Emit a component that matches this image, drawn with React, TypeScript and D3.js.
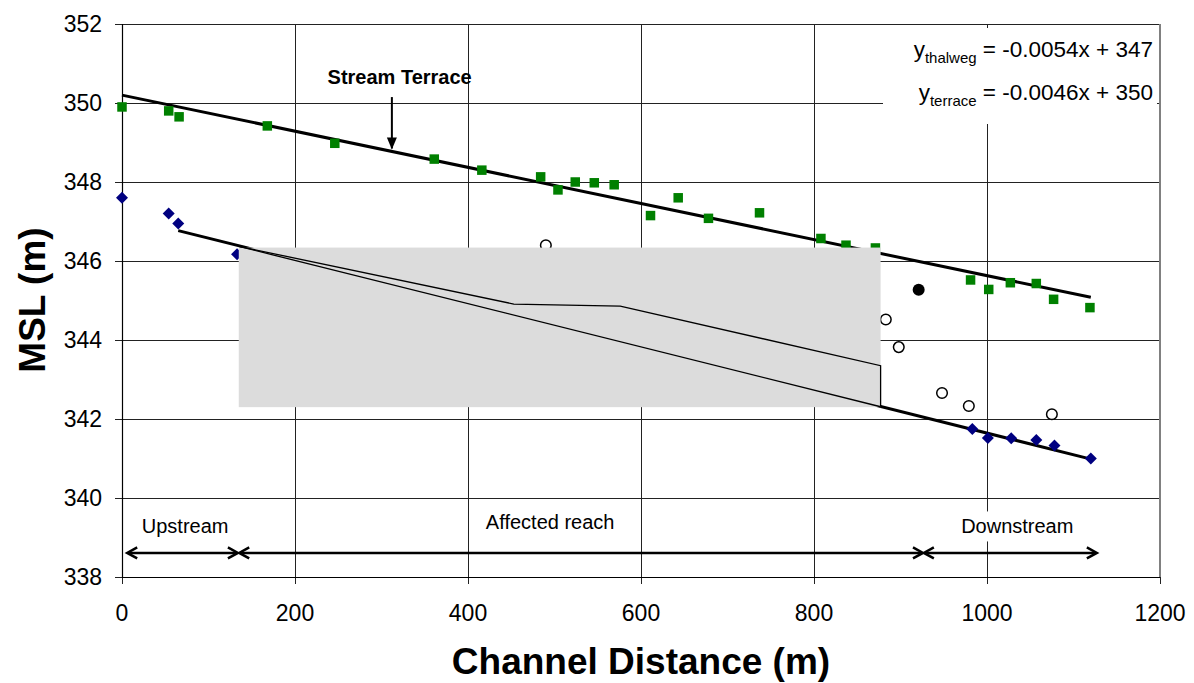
import React from "react";
import * as d3 from "d3";

// ---- Data ----
const terraceX = [0, 54, 66, 168, 246, 361, 416, 484, 504, 524, 546, 569, 611, 643, 678, 737, 808, 837, 871, 981, 1002, 1027, 1057, 1077, 1119];
const terraceY = [349.9, 349.8, 349.65, 349.42, 348.98, 348.58, 348.3, 348.13, 347.8, 348.0, 347.98, 347.93, 347.15, 347.6, 347.08, 347.22, 346.57, 346.4, 346.33, 345.52, 345.28, 345.45, 345.43, 345.03, 344.82];

const thalwegX = [0, 54, 65, 133, 983, 1001, 1028, 1057, 1078, 1120];
const thalwegY = [347.6, 347.2, 346.95, 346.17, 341.75, 341.52, 341.51, 341.47, 341.33, 341.0];

const openX = [490, 883, 898, 948, 979, 1075];
const openY = [346.4, 344.52, 343.82, 342.66, 342.33, 342.12];

const filledX = [921];
const filledY = [345.27];

// Fitted trend lines (endpoints)
const terraceLineX = [0, 1120];
const terraceLineY = [350.2, 345.08];
const thalwegLineX = [65, 1119];
const thalwegLineY = [346.77, 340.99];

// Grey design-profile box
const boxX = [135, 877];
const boxY = [342.3, 346.34];
const profileUpperX = [135, 453, 576, 877, 877];
const profileUpperY = [346.37, 344.91, 344.86, 343.35, 342.31];
const profileLowerX = [135, 877];
const profileLowerY = [346.37, 342.31];

// Reach arrows
const reachNames = ["Upstream", "Affected reach", "Downstream"];
const reachStart = [6, 135.5, 927];
const reachEnd = [134, 926, 1127];
const reachLabelX = [73, 495, 1035];
const reachLabelY = [339.28, 339.38, 339.28];
const reachArrowY = 338.61;

const xTicks = [0, 200, 400, 600, 800, 1000, 1200];
const yTicks = [338, 340, 342, 344, 346, 348, 350, 352];

const FONT = "'Liberation Sans', Arial, Helvetica, sans-serif";

export default function App() {
  const W = 1194;
  const H = 683;
  const left = 122, right = 1160, top = 24, bottom = 577;
  const x = d3.scaleLinear().domain([0, 1200]).range([left, right]);
  const y = d3.scaleLinear().domain([338, 352]).range([bottom, top]);
  const crisp = (v: number) => Math.round(v) + 0.5;

  const line = d3.line<[number, number]>().x((d) => x(d[0])).y((d) => y(d[1]));
  const zip = (a: number[], b: number[]) => a.map((v, i) => [v, b[i]] as [number, number]);

  const arrowHead = (tx: number, ty: number, dir: number, key: string) => {
    const len = 10, hw = 5.5;
    return (
      <path
        key={key}
        d={`M${tx - dir * len},${ty - hw} L${tx},${ty} L${tx - dir * len},${ty + hw}`}
        fill="none"
        stroke="#000"
        strokeWidth={2.5}
      />
    );
  };

  const gridColor = "#222";

  return (
    <svg
      width={W}
      height={H}
      style={{ position: "absolute", left: 0, top: 0, background: "#fff" }}
      fontFamily={FONT}
    >
      <rect x={0} y={0} width={W} height={H} fill="#fff" />
      {/* gridlines */}
      {yTicks.map((t) => (
        <line key={"gy" + t} x1={left - 7} x2={right} y1={crisp(y(t))} y2={crisp(y(t))} stroke={gridColor} strokeWidth={1} />
      ))}
      {xTicks.map((t) => (
        <line key={"gx" + t} x1={crisp(x(t))} x2={crisp(x(t))} y1={top} y2={bottom + 7} stroke={gridColor} strokeWidth={1} />
      ))}
      {/* plot border */}
      <line x1={crisp(left)} x2={crisp(left)} y1={top} y2={bottom} stroke="#000" strokeWidth={1.2} />
      <line x1={left} x2={right} y1={crisp(bottom)} y2={crisp(bottom)} stroke="#000" strokeWidth={1.2} />
      <line x1={right} x2={right} y1={top} y2={bottom} stroke="#808080" strokeWidth={2} />

      {/* tick labels */}
      {yTicks.map((t) => (
        <text key={"ly" + t} x={left - 20} y={y(t)} dy="0.35em" textAnchor="end" fontSize={23} fill="#000">
          {t}
        </text>
      ))}
      {xTicks.map((t) => (
        <text key={"lx" + t} x={x(t)} y={bottom + 36} dy="0.35em" textAnchor="middle" fontSize={23} fill="#000">
          {t}
        </text>
      ))}

      {/* axis titles */}
      <text x={641} y={674} textAnchor="middle" fontSize={37} fontWeight="bold" fill="#000">
        Channel Distance (m)
      </text>
      <text
        transform={`translate(45,300) rotate(-90)`}
        textAnchor="middle"
        fontSize={37}
        fontWeight="bold"
        fill="#000"
      >
        MSL (m)
      </text>

      {/* trend lines */}
      <path d={line(zip(terraceLineX, terraceLineY)) || ""} fill="none" stroke="#000" strokeWidth={3} />
      <path d={line(zip(thalwegLineX, thalwegLineY)) || ""} fill="none" stroke="#000" strokeWidth={3} />

      {/* terrace squares */}
      {terraceX.map((v, i) => (
        <rect key={"ts" + i} x={x(v) - 4.75} y={y(terraceY[i]) - 4.75} width={9.5} height={9.5} fill="#008000" />
      ))}
      {/* thalweg diamonds */}
      {thalwegX.map((v, i) => {
        const cx = x(v), cy = y(thalwegY[i]), r = 6;
        return (
          <path key={"td" + i} d={`M${cx},${cy - r} L${cx + r},${cy} L${cx},${cy + r} L${cx - r},${cy} Z`} fill="#000080" />
        );
      })}
      {/* open circles */}
      {openX.map((v, i) => (
        <circle key={"oc" + i} cx={x(v)} cy={y(openY[i])} r={5.3} fill="#fff" stroke="#000" strokeWidth={1.5} />
      ))}
      {filledX.map((v, i) => (
        <circle key={"fc" + i} cx={x(v)} cy={y(filledY[i])} r={6} fill="#000" />
      ))}

      {/* grey profile box */}
      <rect
        x={x(boxX[0])}
        y={y(boxY[1])}
        width={x(boxX[1]) - x(boxX[0])}
        height={y(boxY[0]) - y(boxY[1])}
        fill="#dcdcdc"
      />
      <path d={line(zip(profileUpperX, profileUpperY)) || ""} fill="none" stroke="#000" strokeWidth={1.3} />
      <path d={line(zip(profileLowerX, profileLowerY)) || ""} fill="none" stroke="#000" strokeWidth={1.3} />

      {/* equation box */}
      <rect x={883} y={28} width={274} height={96} fill="#fff" />
      <text x={1153} y={57} textAnchor="end" fontSize={22.5} fill="#000">
        y<tspan fontSize={15} dy={6}>thalweg</tspan>
        <tspan dy={-6}> = -0.0054x + 347</tspan>
      </text>
      <text x={1153} y={100} textAnchor="end" fontSize={22.5} fill="#000">
        y<tspan fontSize={15} dy={6}>terrace</tspan>
        <tspan dy={-6}> = -0.0046x + 350</tspan>
      </text>

      {/* Stream Terrace annotation */}
      <text x={x(321)} y={y(350.66)} dy="0.35em" textAnchor="middle" fontSize={20} fontWeight="bold" fill="#000">
        Stream Terrace
      </text>
      <line x1={x(312)} x2={x(312)} y1={y(350.15)} y2={y(348.85)} stroke="#000" strokeWidth={2} />
      <path
        d={`M${x(312) - 5},${y(348.85) - 11} L${x(312) + 5},${y(348.85) - 11} L${x(312)},${y(348.85) + 1} Z`}
        fill="#000"
      />

      {/* reach labels and arrows */}
      {reachNames.map((n, i) => {
        const tx = x(reachLabelX[i]);
        const ty = y(reachLabelY[i]);
        const w = n.length * 10.2 + 12;
        return (
          <g key={"rl" + i}>
            <rect x={tx - w / 2} y={ty - 15} width={w} height={30} fill="#fff" />
            <text x={tx} y={ty} dy="0.35em" textAnchor="middle" fontSize={20} fill="#000">
              {n}
            </text>
          </g>
        );
      })}
      {reachNames.map((n, i) => {
        const ay = y(reachArrowY);
        const x1 = x(reachStart[i]);
        const x2 = x(reachEnd[i]);
        return (
          <g key={"ra" + i}>
            <line x1={x1 + 1} x2={x2 - 1} y1={ay} y2={ay} stroke="#000" strokeWidth={2.5} />
            {arrowHead(x1, ay, -1, "a" + i)}
            {arrowHead(x2, ay, 1, "b" + i)}
          </g>
        );
      })}
    </svg>
  );
}
